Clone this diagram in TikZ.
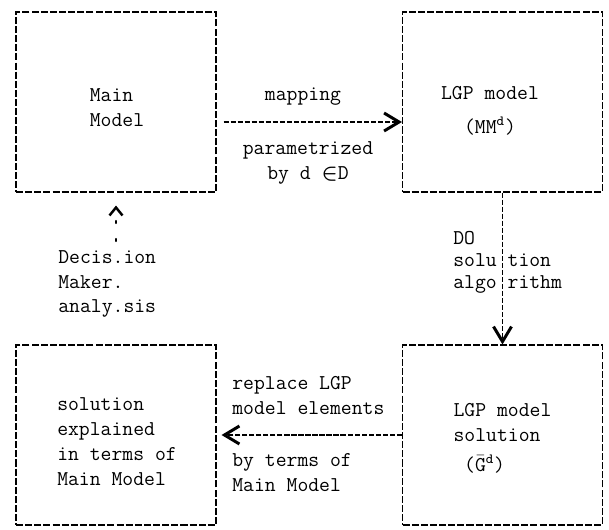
\documentclass[tikz,border=0pt]{standalone}
\usepackage{amsmath}
\usepackage{tikz}
\usetikzlibrary{arrows.meta}
\newcommand{\tw}{\ttfamily\fontsize{12}{14.2}\selectfont}
\tikzset{
  tbox/.style    = {draw,dash pattern=on 4pt off 1.2pt,line width=0.6pt,
                    minimum width=4cm,minimum height=3.6cm},
  flow/.style    = {-{Straight Barb[length=3mm,width=3.6mm,line width=1.7pt]},
                    dash pattern=on 3pt off 1pt,line width=0.6pt},
  backflow/.style= {-{Straight Barb[length=1.6mm,width=2.6mm,line width=1.4pt]},
                    dash pattern=on 1.2pt off 9pt,line width=1.2pt,line cap=round},
  lbl/.style     = {align=left,font=\tw,inner sep=0pt}
}

\begin{document}
\begin{tikzpicture}
  \useasboundingbox (0,0) rectangle (12.18,10.58);
  % the four stages
  \node[tbox] (main) at (2.32,8.54) {};
  \node[tbox] (lgp)  at (10.05,8.54) {};
  \node[tbox] (expl) at (2.32,1.88) {};
  \node[tbox] (sol)  at (10.05,1.88) {};
  \node[lbl] (maintxt) at (2.34,8.42) {Main\\Model};
  \node[lbl,align=center] (lgptxt) at (9.80,8.36) {LGP model\\[5pt](MM\textsuperscript{d})};
  \node[lbl] (expltxt) at (2.34,1.74) {solution\\explained\\in terms of\\Main Model};
  \node[lbl] (soltxt)  at (10.05,1.82) {LGP model\\solution\\[3pt]\hspace*{0.5em}(\smash{$\bar{\mbox{G}}$}\textsuperscript{d})};
  % connectors
  \draw[flow,shorten <=0.14cm] ([yshift=-0.4cm]main.east) -- ([yshift=-0.4cm]lgp.west);
  \draw[flow] (lgp.south) -- (sol.north);
  \draw[flow,shorten >=0.1cm] (sol.west) -- (expl.east);
  \draw[backflow,shorten <=0.08cm,shorten >=0.26cm] (main.south |- 0,5.68) -- (main.south);
  % labels
  \node[lbl,align=center] (map)   at (6.06,8.64) {mapping};
  \node[lbl,align=center] (param) at (6.16,7.32) {parametrized\\by d $\boldsymbol{\in}$D};
  \node[lbl,anchor=west,font=\ttfamily\fontsize{12}{12.6}\selectfont]
    (algo) at (9.06,5.34) {DO\\solu tion\\algo rithm};
  \node[lbl,anchor=west]  (dm)    at (1.16,4.90) {Decis.ion\\Maker.\\analy.sis};
  \node[lbl,anchor=west]  (repl)  at (4.64,2.67) {replace LGP\\model elements};
  \node[lbl,anchor=west]  (terms) at (4.64,1.12) {by terms of\\Main Model};
\end{tikzpicture}
\end{document}
